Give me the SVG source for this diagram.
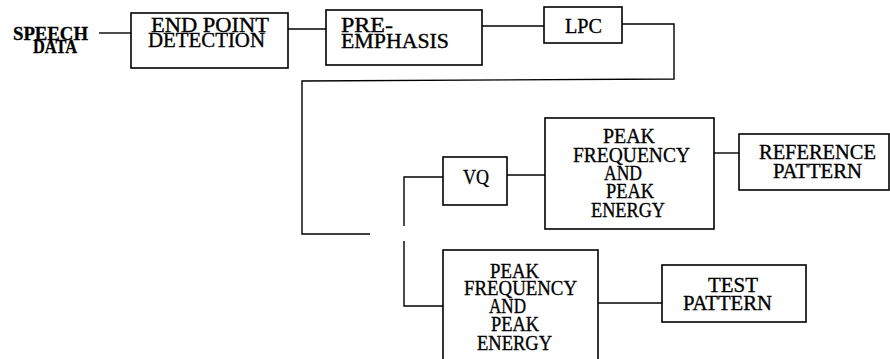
<svg xmlns="http://www.w3.org/2000/svg" width="890" height="359" viewBox="0 0 890 359">
<style>
.box{fill:none;stroke:#000;stroke-width:1.6}
.ln{fill:none;stroke:#000;stroke-width:1.4}
.t{font-family:"Liberation Serif","Times New Roman",serif;font-size:22px;fill:#000;stroke:#000;stroke-width:0.35}
.s{font-size:20px}
.b{font-family:"Liberation Serif","Times New Roman",serif;font-size:19px;font-weight:bold;fill:#000;stroke:#000;stroke-width:0.3}
</style>
<rect width="890" height="359" fill="#fff"/>
<g id="connectors">
<line class="ln" x1="99" y1="33" x2="131" y2="33"/>
<line class="ln" x1="288" y1="29" x2="326" y2="29"/>
<line class="ln" x1="482" y1="26" x2="544" y2="26"/>
<polyline class="ln" points="622,24 674,24 674,79 302,81 302,234 370,234"/>
<polyline class="ln" points="443,177 404,177 404,226"/>
<polyline class="ln" points="404,241 404,306 443,306"/>
<line class="ln" x1="507" y1="175" x2="545" y2="175"/>
<line class="ln" x1="714" y1="153" x2="739" y2="153"/>
<line class="ln" x1="598" y1="303" x2="662" y2="303"/>
</g>
<g id="speech-data">
<text class="b" x="13" y="40" textLength="75" lengthAdjust="spacingAndGlyphs">SPEECH</text>
<text class="b" x="33" y="53" textLength="44" lengthAdjust="spacingAndGlyphs">DATA</text>
</g>
<g id="end-point-detection">
<rect class="box" x="131" y="13" width="157" height="55"/>
<text class="t s" x="151" y="32" textLength="118" lengthAdjust="spacingAndGlyphs">END POINT</text>
<text class="t s" x="148" y="47" textLength="117" lengthAdjust="spacingAndGlyphs">DETECTION</text>
</g>
<g id="pre-emphasis">
<rect class="box" x="326" y="10" width="156" height="55"/>
<text class="t s" x="341" y="32" textLength="52" lengthAdjust="spacingAndGlyphs">PRE-</text>
<text class="t s" x="341" y="48" textLength="108" lengthAdjust="spacingAndGlyphs">EMPHASIS</text>
</g>
<g id="lpc">
<rect class="box" x="544" y="7" width="78" height="36"/>
<text class="t" x="565" y="33" textLength="37" lengthAdjust="spacingAndGlyphs">LPC</text>
</g>
<g id="vq">
<rect class="box" x="443" y="157" width="64" height="48"/>
<text class="t" x="463" y="184" textLength="26" lengthAdjust="spacingAndGlyphs">VQ</text>
</g>
<g id="peak-upper">
<rect class="box" x="545" y="118" width="169" height="111"/>
<text class="t" x="603" y="143" textLength="52" lengthAdjust="spacingAndGlyphs">PEAK</text>
<text class="t" x="573" y="162" textLength="117" lengthAdjust="spacingAndGlyphs">FREQUENCY</text>
<text class="t" x="604" y="180" textLength="38" lengthAdjust="spacingAndGlyphs">AND</text>
<text class="t" x="606" y="198" textLength="48" lengthAdjust="spacingAndGlyphs">PEAK</text>
<text class="t" x="591" y="217" textLength="74" lengthAdjust="spacingAndGlyphs">ENERGY</text>
</g>
<g id="reference-pattern">
<rect class="box" x="739" y="134" width="150" height="56"/>
<text class="t" x="759" y="159" textLength="117" lengthAdjust="spacingAndGlyphs">REFERENCE</text>
<text class="t" x="773" y="178" textLength="89" lengthAdjust="spacingAndGlyphs">PATTERN</text>
</g>
<g id="peak-lower">
<rect class="box" x="443" y="250" width="155" height="120"/>
<text class="t" x="490" y="278" textLength="49" lengthAdjust="spacingAndGlyphs">PEAK</text>
<text class="t" x="464" y="295" textLength="113" lengthAdjust="spacingAndGlyphs">FREQUENCY</text>
<text class="t" x="489" y="313" textLength="37" lengthAdjust="spacingAndGlyphs">AND</text>
<text class="t" x="491" y="331" textLength="48" lengthAdjust="spacingAndGlyphs">PEAK</text>
<text class="t" x="477" y="350" textLength="75" lengthAdjust="spacingAndGlyphs">ENERGY</text>
</g>
<g id="test-pattern">
<rect class="box" x="662" y="265" width="144" height="57"/>
<text class="t" x="708" y="292" textLength="50" lengthAdjust="spacingAndGlyphs">TEST</text>
<text class="t" x="683" y="310" textLength="89" lengthAdjust="spacingAndGlyphs">PATTERN</text>
</g>
</svg>
